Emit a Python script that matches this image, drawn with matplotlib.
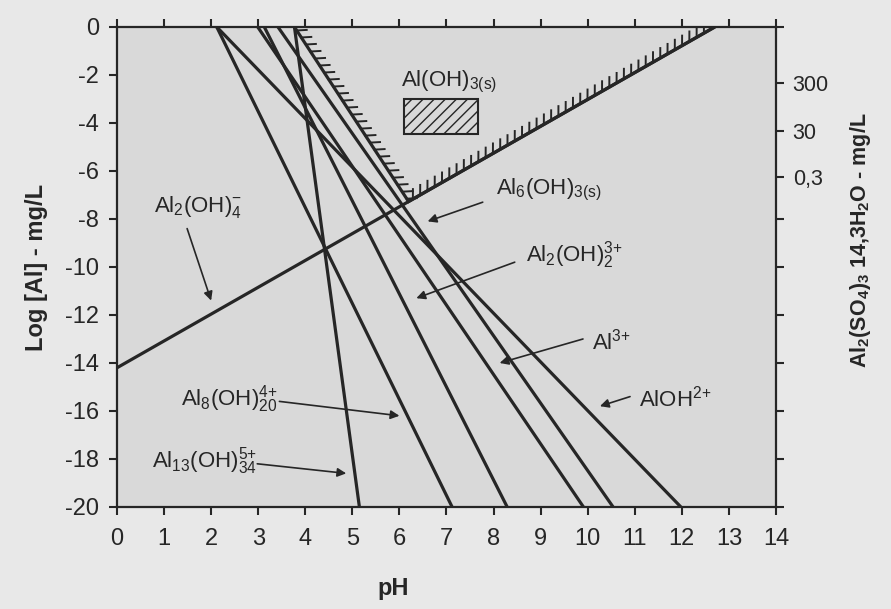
import matplotlib
matplotlib.use("Agg")
import matplotlib.pyplot as plt
from matplotlib import patheffects, font_manager
from matplotlib.patches import Rectangle

# ---- fonts -------------------------------------------------------------
_names = {f.name for f in font_manager.fontManager.ttflist}
BASE = "Liberation Sans Narrow" if "Liberation Sans Narrow" in _names else "Liberation Sans"
plt.rcParams["font.family"] = [BASE, "DejaVu Sans"]
plt.rcParams["mathtext.fontset"] = "custom"
plt.rcParams["mathtext.rm"] = BASE
plt.rcParams["mathtext.it"] = BASE
plt.rcParams["mathtext.bf"] = BASE + ":bold"
plt.rcParams["mathtext.default"] = "regular"
plt.rcParams["hatch.linewidth"] = 1.0

# ---- data --------------------------------------------------------------
ph_ticks = list(range(0, 15))
log_ticks = list(range(0, -21, -2))

# straight species lines: pH where each line meets log[Al] = 0 and log[Al] = -20
line_ph_top = [3.77, 2.12, 3.13, 2.99, 3.42, 2.12]
line_ph_bottom = [5.15, 7.12, 8.29, 9.91, 10.54, 11.98]

# Al(OH)4- line: log[Al] at pH 0 and pH where it reaches log[Al] = 0
aloh4_log_at_ph0 = -14.2
aloh4_ph_at_zero = 12.7

# Al(OH)3(s) precipitation boundary (descending branch)
boundary_ph_top = 3.77
boundary_slope = -3.0

# alum dose scale on the right axis
alum_tick_pos = [-2.35, -4.35, -6.25]
alum_tick_labels = ["300", "30", "0,3"]
alum_minor_pos = [0, -8, -10, -12, -14, -16, -18, -20]

# labels: (text, x, y) and arrows: (x_from, y_from, x_to, y_to)
species_labels = [
    (r"Al(OH)$_{3(s)}$", 6.04, -2.3),
    (r"Al$_2$(OH)$_4^{-}$", 0.79, -7.5),
    (r"Al$_6$(OH)$_{3(s)}$", 8.06, -6.8),
    (r"Al$_2$(OH)$_2^{3{+}}$", 8.70, -9.5),
    (r"Al$^{3{+}}$", 10.09, -13.1),
    (r"AlOH$^{2{+}}$", 11.10, -15.5),
    (r"Al$_8$(OH)$_{20}^{4{+}}$", 1.36, -15.5),
    (r"Al$_{13}$(OH)$_{34}^{5{+}}$", 0.74, -18.1),
]
species_arrows = [
    (1.49, -8.4, 2.00, -11.4),
    (7.77, -7.3, 6.60, -8.1),
    (8.45, -9.8, 6.36, -11.3),
    (9.90, -13.0, 8.13, -14.0),
    (10.90, -15.4, 10.26, -15.8),
    (3.45, -15.6, 6.00, -16.2),
    (2.98, -18.2, 4.87, -18.6),
]

# hatched legend box for the solid phase
solid_box = (6.09, -4.46, 1.59, 1.46)  # x, y, width, height

# ---- style -------------------------------------------------------------
INK = "#262626"
FIG_BG = "#e8e8e8"
AX_BG = "#d9d9d9"
FS = 17
FS_LABEL = 16

fig = plt.figure(figsize=(8.91, 6.09), dpi=100, facecolor=FIG_BG)
ax = fig.add_axes([0.1313, 0.1675, 0.7396, 0.7882])
ax.set_facecolor(AX_BG)
ax.set_xlim(0, 14)
ax.set_ylim(-20, 0)

# species lines
for p0, p1 in zip(line_ph_top, line_ph_bottom):
    ax.plot([p0, p1], [0, -20], color=INK, lw=2.3, solid_capstyle="butt")

# Al(OH)4- line
ax.plot([0, aloh4_ph_at_zero], [aloh4_log_at_ph0, 0], color=INK, lw=2.3,
        solid_capstyle="butt")

# precipitation boundary with ticks on the solid side
aloh4_slope = -aloh4_log_at_ph0 / aloh4_ph_at_zero
ph_meet = (-boundary_slope * boundary_ph_top - aloh4_log_at_ph0) / (aloh4_slope - boundary_slope)
log_meet = aloh4_log_at_ph0 + aloh4_slope * ph_meet
bx = [boundary_ph_top, ph_meet, aloh4_ph_at_zero]
by = [0, log_meet, 0]
ax.plot(bx, by, color=INK, lw=2.3, solid_joinstyle="miter")
ax.plot(bx, by, color="none", lw=1.2,
        path_effects=[patheffects.TickedStroke(angle=60, spacing=6.0, length=1.2,
                                               linewidth=1.4, foreground=INK)])

# hatched box
ax.add_patch(Rectangle(solid_box[:2], solid_box[2], solid_box[3], facecolor="none",
                       edgecolor=INK, lw=1.5, hatch="///"))

# labels and arrows
for txt, x, y in species_labels:
    ax.text(x, y, txt, fontsize=FS_LABEL, color=INK, ha="left", va="center")
for x0, y0, x1, y1 in species_arrows:
    ax.annotate("", xy=(x1, y1), xytext=(x0, y0),
                arrowprops=dict(arrowstyle="-|>", color=INK, lw=1.2,
                                mutation_scale=13, shrinkA=0, shrinkB=0))

# axes, ticks
for s in ax.spines.values():
    s.set_color(INK)
    s.set_linewidth(1.6)
ax.set_xticks(ph_ticks)
ax.set_yticks(log_ticks)
ax.set_yticklabels([str(v) for v in log_ticks])
ax.tick_params(axis="both", direction="out", length=6, width=1.5, color=INK,
               labelsize=FS, labelcolor=INK)
ax.tick_params(axis="x", top=True, pad=9)
ax.tick_params(axis="y", pad=7)
ax.set_xlabel("pH", fontsize=FS, fontweight="bold", color=INK)
ax.xaxis.set_label_coords(0.419, -0.145)
ax.set_ylabel("Log [Al] - mg/L", fontsize=FS, fontweight="bold", color=INK, labelpad=12)

ax2 = ax.twinx()
ax2.set_ylim(-20, 0)
ax2.set_yticks(alum_tick_pos)
ax2.set_yticklabels(alum_tick_labels)
ax2.set_yticks(alum_minor_pos, minor=True)
ax2.tick_params(axis="y", which="both", direction="out", length=6, width=1.5,
                color=INK, labelsize=15.5, labelcolor=INK, pad=6)
for s in ax2.spines.values():
    s.set_visible(False)
ax2.set_ylabel(r"Al$_2$(SO$_4$)$_3$ 14,3H$_2$O - mg/L", fontsize=15.5,
               fontweight="bold", color=INK)
ax2.yaxis.set_label_coords(1.11, 0.556)

fig.savefig("out.png", dpi=100, facecolor=FIG_BG)
